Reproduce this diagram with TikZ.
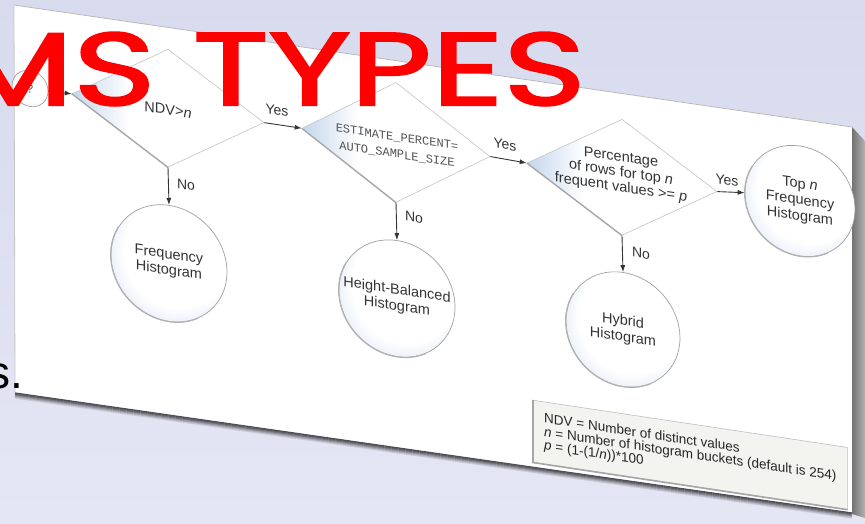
\documentclass[tikz,border=0pt]{standalone}
\usepackage{fontspec}
\setmainfont{Liberation Sans}
\newfontfamily\codefont{Liberation Mono}
\newfontfamily\titlefont{Poppins}[FakeBold=2]
\usetikzlibrary{shapes.geometric,arrows.meta}

\definecolor{slidetop}{RGB}{216,219,238}
\definecolor{slidebot}{RGB}{228,230,244}
\definecolor{diashade}{RGB}{196,214,236}
\definecolor{circshade}{RGB}{204,217,238}
\definecolor{diaedge}{RGB}{196,196,196}
\definecolor{circedge}{RGB}{160,160,160}
\definecolor{ink}{RGB}{52,52,52}
\definecolor{legendfill}{RGB}{243,243,240}
\definecolor{titlered}{RGB}{255,0,0}

% blue tint at the left corner of a decision, white elsewhere
\pgfdeclarehorizontalshading{decisionshade}{100bp}{%
  color(0bp)=(diashade); color(25bp)=(diashade); color(40bp)=(white); color(100bp)=(white)}
% outcome discs: white with a blue rim towards the lower left
\pgfdeclareradialshading{outcomeshade}{\pgfpoint{9bp}{9bp}}{%
  color(0bp)=(white); color(24bp)=(white); color(38bp)=(circshade); color(50bp)=(circshade)}

\tikzset{
  dia/.style={diamond, draw=diaedge, line width=0.6pt, inner sep=0pt, shading=decisionshade},
  dtext/.style={font=\fontsize{14.5}{16}\selectfont, text=ink, align=center, inner sep=0pt},
  ctext/.style={font=\codefont\fontsize{12}{17}\selectfont, text=ink!85, align=center, inner sep=0pt},
  outcome/.style={circle, draw=circedge, line width=0.7pt, minimum size=#1, inner sep=0pt,
    shading=outcomeshade, font=\fontsize{14.5}{16}\selectfont, text=ink, align=center},
  lbl/.style={font=\fontsize{14}{14}\selectfont, text=ink, inner sep=0pt},
  arr/.style={draw=ink, line width=0.9pt, -{Latex[length=7pt,width=5pt]}},
  rimshadow/.style={draw=gray!70, line width=1.3pt},
  discrim/.style={draw=gray!60, line width=1.2pt},
}

\begin{document}
\begin{tikzpicture}[x=1pt,y=-1pt]
\useasboundingbox (0,0) rectangle (865,523);
\clip (0,0) rectangle (865,523);

% slide background
\shade[top color=slidetop, bottom color=slidebot] (0,0) rectangle (865,523);

% the tilted card: soft shadow under its lower edge
\foreach \d/\c in {6/12,5/22,4/34,3/46,2/58,1/66}
  \draw[line width=1.3pt, black!\c!slidebot] (15,392+\d) -- (852,512+\d);
\fill[white] (14,5) -- (852,127) -- (852,512) -- (15,392) -- cycle;
\draw[gray!55, line width=0.8pt] (14,5) -- (852,127);
\draw[gray!45, line width=0.8pt] (14,5) -- (15,392);
% thickness of the card on its right side
\shade[left color=black!55, middle color=black!92, right color=gray!60]
  (852,127) -- (865,141) -- (865,518) -- (852,514) -- cycle;

% the flowchart, slanted with the card
\begin{scope}[yslant=-0.15, transform shape]
  % start
  \node[outcome=36pt, font=\fontsize{12}{12}\selectfont, text=ink!80] (start) at (30,84) {?};

  % decisions
  \node[dia, minimum width=192pt, minimum height=118pt] (d1) at (168,83) {};
  \node[dtext] (t1) at (168,84.5) {NDV>\textit{n}};
  \node[dia, minimum width=188pt, minimum height=120pt] (d2) at (396,83) {};
  \node[ctext] (t2) at (397,86.5) {ESTIMATE\_PERCENT=\\AUTO\_SAMPLE\_SIZE};
  \node[dia, minimum width=190pt, minimum height=116pt] (d3) at (622,84) {};
  \node[dtext, font=\fontsize{14.5}{15}\selectfont] (t3) at (621,80)
    {Percentage\\of rows for top \textit{n}\\frequent values >= \textit{p}};

  % darker lower-left rims of the decisions
  \draw[rimshadow] (d1.west) -- (d1.south);
  \draw[rimshadow] (d2.west) -- (d2.south);
  \draw[rimshadow] (d3.west) -- (d3.south);

  % outcomes
  \node[outcome=116pt] (freq) at (169,238) {Frequency\\Histogram};
  \node[outcome=116pt] (hb) at (397,239) {Height-Balanced\\Histogram};
  \node[outcome=114pt] (hyb) at (623,236) {Hybrid\\Histogram};
  \node[outcome=110pt] (topn) at (800,81) {Top \textit{n}\\Frequency\\Histogram};

  % shaded lower-left rims of the outcomes
  \draw[discrim] (freq.150) arc[start angle=150, end angle=300, radius=58.3pt];
  \draw[discrim] (hb.150) arc[start angle=150, end angle=300, radius=58.3pt];
  \draw[discrim] (hyb.150) arc[start angle=150, end angle=300, radius=57.3pt];
  \draw[discrim] (topn.150) arc[start angle=150, end angle=300, radius=55.3pt];

  % connectors
  \draw[arr] (start.east) -- (d1.west);
  \draw[arr] (d1.east) -- (d2.west);
  \draw[arr] (d2.east) -- (d3.west);
  \draw[arr] (d3.east) -- (topn.west);
  \draw[arr] (d1.south) -- (freq.north);
  \draw[arr] (d2.south) -- (hb.north);
  \draw[arr] (d3.south) -- (hyb.north);

  % branch labels
  \node[lbl] (y1) at (277,69) {Yes};
  \node[lbl] (y2) at (505,69) {Yes};
  \node[lbl] (y3) at (727,71) {Yes};
  \node[lbl] (n1) at (186,157) {No};
  \node[lbl] (n2) at (414,155) {No};
  \node[lbl] (n3) at (641,157) {No};

  % key
  \node[draw=gray!50, line width=0.6pt, fill=legendfill, anchor=north west,
        minimum width=314pt, minimum height=62pt, inner xsep=6pt, align=left,
        font=\fontsize{13.5}{13.5}\selectfont, text=black!85] (key) at (533,320)
    {NDV = Number of distinct values\\
     \textit{n} = Number of histogram buckets (default is 254)\\
     \textit{p} = (1-(1/\textit{n}))*100};
  \draw[draw=gray!70, line width=1.6pt] (key.north west) -- (key.south west) -- (key.south east);
\end{scope}

% slide text in front of the card
\node[font=\titlefont\fontsize{103}{103}\selectfont, text=titlered, xscale=1.36,
      anchor=base east, inner sep=0pt] (title) at (586,105) {MS TYPES};
\node[font=\fontsize{46}{46}\selectfont, text=black, anchor=base east,
      inner sep=0pt] (body) at (23,388) {s.};
\end{tikzpicture}
\end{document}
